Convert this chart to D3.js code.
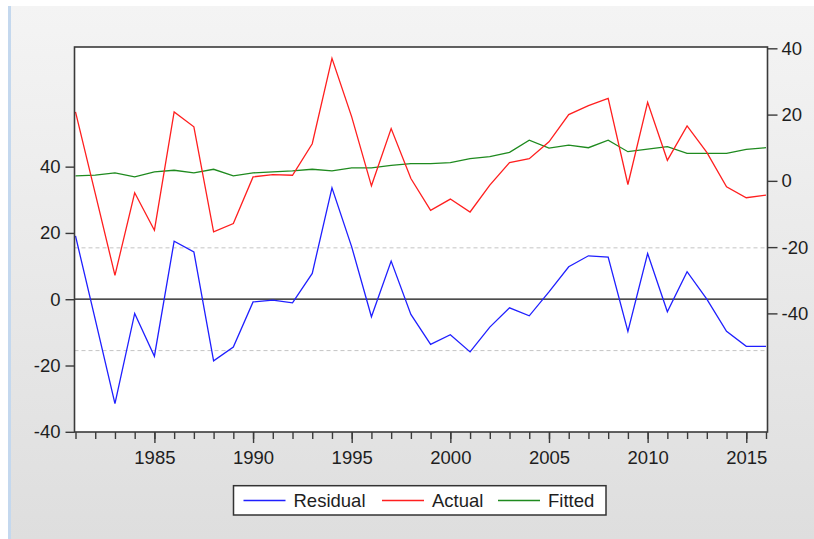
<!DOCTYPE html>
<html>
<head>
<meta charset="utf-8">
<script src="https://cdn.jsdelivr.net/npm/d3@7"></script>
<style>
  html, body { margin: 0; padding: 0; background: #fff; }
  svg { display: block; font-family: "Liberation Sans", Arial, sans-serif; }
</style>
</head>
<body>
<svg id="chart" width="814" height="539"></svg>
<script>
// Annual observations
const years = [1981, 1982, 1983, 1984, 1985, 1986, 1987, 1988, 1989, 1990,
               1991, 1992, 1993, 1994, 1995, 1996, 1997, 1998, 1999, 2000,
               2001, 2002, 2003, 2004, 2005, 2006, 2007, 2008, 2009, 2010,
               2011, 2012, 2013, 2014, 2015, 2016];

const actual = [20.8, -3.8, -28.5, -3.6, -14.9, 20.8, 16.3, -15.4, -12.9, 1.2,
                1.9, 1.7, 11.2, 37.0, 19.3, -1.5, 15.8, 0.7, -8.9, -5.5,
                -9.4, -1.3, 5.5, 6.7, 11.8, 20.0, 22.7, 24.9, -1.1, 23.7,
                6.2, 16.6, 8.6, -1.8, -5.1, -4.3];

const fitted = [1.5, 1.7, 2.4, 1.2, 2.7, 3.2, 2.4, 3.5, 1.5, 2.4,
                2.7, 3.0, 3.5, 3.0, 3.9, 3.9, 4.7, 5.2, 5.2, 5.5,
                6.7, 7.3, 8.6, 12.3, 9.9, 10.8, 10.0, 12.3, 8.8, 9.6,
                10.3, 8.3, 8.3, 8.3, 9.5, 10.0];

const residual = [19.1, -6.1, -31.5, -4.3, -17.2, 17.5, 14.3, -18.6, -14.4, -0.8,
                  -0.3, -1.1, 7.8, 33.6, 15.8, -5.3, 11.5, -4.6, -13.6, -10.7,
                  -15.9, -8.4, -2.6, -5.0, 2.2, 9.8, 13.1, 12.7, -9.7, 13.8,
                  -3.8, 8.3, 0.0, -9.7, -14.2, -14.2];

// Axis ticks
const leftTicks = [-40, -20, 0, 20, 40];
const rightTicks = [-40, -20, 0, 20, 40];
const yearLabels = [1985, 1990, 1995, 2000, 2005, 2010, 2015];
const residualBand = 15.5; // one standard error of the regression

const legendItems = [
  { label: "Residual", color: "#1f1fff" },
  { label: "Actual",   color: "#ff1f1f" },
  { label: "Fitted",   color: "#1f8a1f" }
];

// Plain ASCII hyphen for negative tick labels
const plainNumber = d => String(d);

const svg = d3.select("#chart");
const W = 814, H = 539;

// Window background
const defs = svg.append("defs");
const grad = defs.append("linearGradient")
  .attr("id", "bg").attr("x1", 0).attr("y1", 0).attr("x2", 0).attr("y2", 1);
grad.append("stop").attr("offset", "0%").attr("stop-color", "#f4f4f4");
grad.append("stop").attr("offset", "100%").attr("stop-color", "#dedede");

svg.append("rect").attr("width", W).attr("height", H).attr("fill", "#fff");
svg.append("rect").attr("x", 8).attr("y", 6).attr("width", W - 8).attr("height", H - 6)
  .attr("fill", "url(#bg)");
svg.append("rect").attr("x", 8).attr("y", 6).attr("width", 3).attr("height", H - 6)
  .attr("fill", "#c4d8ee");

// Plot geometry
const plot = { left: 74.5, right: 767.5, top: 47, bottom: 432 };

const x = d3.scaleLinear().domain([1981, 2016]).range([75.5, 766]);
const yLeft = d3.scaleLinear().domain([-40, 76.1]).range([431.8, 47]);
const yRight = d3.scaleLinear().domain([-75.8, 40.4]).range([432, 47]);

svg.append("rect")
  .attr("x", plot.left).attr("y", plot.top)
  .attr("width", plot.right - plot.left).attr("height", plot.bottom - plot.top)
  .attr("fill", "#fff");

// Residual standard-error band lines
svg.selectAll("line.band").data([residualBand, -residualBand]).join("line")
  .attr("class", "band")
  .attr("x1", plot.left).attr("x2", plot.right)
  .attr("y1", d => yLeft(d)).attr("y2", d => yLeft(d))
  .attr("stroke", "#c4c4c4").attr("stroke-width", 1)
  .attr("stroke-dasharray", "4,3");

// Zero line for residuals
svg.append("line")
  .attr("x1", plot.left).attr("x2", plot.right)
  .attr("y1", yLeft(0)).attr("y2", yLeft(0))
  .attr("stroke", "#111").attr("stroke-width", 1.2);

// Series lines
const lineLeft = d3.line().x((d, i) => x(years[i])).y(d => yLeft(d));
const lineRight = d3.line().x((d, i) => x(years[i])).y(d => yRight(d));

svg.append("path").datum(fitted).attr("d", lineRight)
  .attr("fill", "none").attr("stroke", legendItems[2].color).attr("stroke-width", 1.3);
svg.append("path").datum(actual).attr("d", lineRight)
  .attr("fill", "none").attr("stroke", legendItems[1].color).attr("stroke-width", 1.3);
svg.append("path").datum(residual).attr("d", lineLeft)
  .attr("fill", "none").attr("stroke", legendItems[0].color).attr("stroke-width", 1.3);

// Frame
svg.append("rect")
  .attr("x", plot.left).attr("y", plot.top)
  .attr("width", plot.right - plot.left).attr("height", plot.bottom - plot.top)
  .attr("fill", "none").attr("stroke", "#3a3a3a").attr("stroke-width", 1.6);

const textColor = "#1e1e1e";
const fontSize = "18.5px";

// Left axis (residual)
const gL = svg.append("g").attr("transform", `translate(${plot.left},0)`)
  .call(d3.axisLeft(yLeft).tickValues(leftTicks).tickSize(9).tickPadding(5).tickFormat(plainNumber));
gL.select(".domain").remove();
gL.selectAll(".tick line").attr("stroke", "#3a3a3a").attr("stroke-width", 1.4);
gL.selectAll(".tick text").attr("fill", textColor).style("font-size", fontSize)
  .style("font-family", '"Liberation Sans", Arial, sans-serif');

// Right axis (actual / fitted)
const gR = svg.append("g").attr("transform", `translate(${plot.right},0)`)
  .call(d3.axisRight(yRight).tickValues(rightTicks).tickSize(10).tickPadding(4).tickFormat(plainNumber));
gR.select(".domain").remove();
gR.selectAll(".tick line").attr("stroke", "#3a3a3a").attr("stroke-width", 1.4);
gR.selectAll(".tick text").attr("fill", textColor).style("font-size", fontSize)
  .style("font-family", '"Liberation Sans", Arial, sans-serif');

// Bottom axis: a minor tick every year, longer ticks with labels every five years
const gB = svg.append("g").attr("transform", `translate(0,${plot.bottom})`);
gB.call(d3.axisBottom(x).tickValues(years).tickSize(7).tickFormat(""));
gB.select(".domain").remove();
gB.selectAll(".tick line").attr("stroke", "#3a3a3a").attr("stroke-width", 1.4);
const gB2 = svg.append("g").attr("transform", `translate(0,${plot.bottom})`)
  .call(d3.axisBottom(x).tickValues(yearLabels).tickSize(11).tickPadding(8).tickFormat(plainNumber));
gB2.select(".domain").remove();
gB2.selectAll(".tick line").attr("stroke", "#3a3a3a").attr("stroke-width", 1.4);
gB2.selectAll(".tick text").attr("fill", textColor).style("font-size", fontSize)
  .style("font-family", '"Liberation Sans", Arial, sans-serif');

// Legend
const legend = svg.append("g");
legend.append("rect")
  .attr("x", 233.5).attr("y", 485.7).attr("width", 372.5).attr("height", 29.3)
  .attr("fill", "#fff").attr("stroke", "#333").attr("stroke-width", 1.5);
const legendX = [243.5, 382, 498];
legendItems.forEach((item, i) => {
  legend.append("line")
    .attr("x1", legendX[i]).attr("x2", legendX[i] + 42)
    .attr("y1", 500.5).attr("y2", 500.5)
    .attr("stroke", item.color).attr("stroke-width", 1.3);
  legend.append("text")
    .attr("x", legendX[i] + 50).attr("y", 500.5)
    .attr("dy", "0.35em")
    .attr("fill", textColor)
    .style("font-size", fontSize)
    .text(item.label);
});
</script>
</body>
</html>
